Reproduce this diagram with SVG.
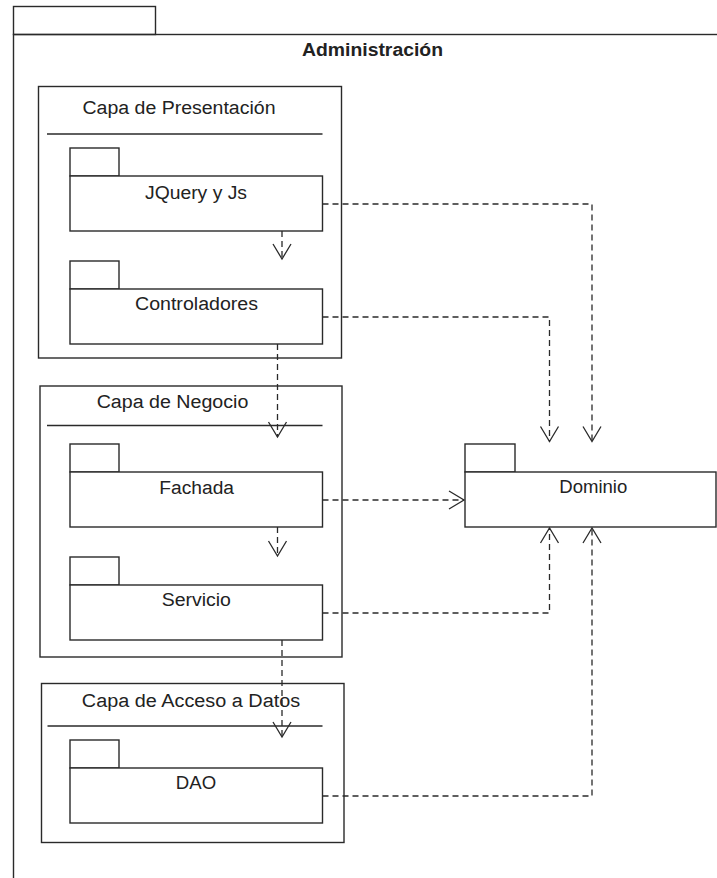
<svg xmlns="http://www.w3.org/2000/svg" width="717" height="878" viewBox="0 0 717 878">
  <defs>
    <style>
      .box { fill: none; stroke: #2a2a2a; stroke-width: 1.4; }
      .pkg { fill: #ffffff; stroke: #2a2a2a; stroke-width: 1.4; }
      .sep { stroke: #2a2a2a; stroke-width: 1.4; }
      .lbl { font-family: "Liberation Sans", Arial, sans-serif; font-size: 18px; fill: #222; text-anchor: middle; }
      .title { font-weight: bold; }
      .dep { fill: none; stroke: #2a2a2a; stroke-width: 1.3; stroke-dasharray: 6 4; marker-end: url(#open); }
    </style>
    <!-- open "V" arrowhead used by dependency connectors -->
    <marker id="open" markerUnits="userSpaceOnUse" markerWidth="20" markerHeight="22" refX="16" refY="10" orient="auto" overflow="visible">
      <path d="M1,1 L16,10 L1,19" fill="none" stroke="#2a2a2a" stroke-width="1.3"/>
    </marker>
  </defs>

  <rect width="717" height="878" fill="#ffffff"/>

  <!-- outer package: Administración -->
  <g id="administracion">
    <rect class="box" x="13.5" y="6.5" width="142" height="28"/>
    <rect class="box" x="13.5" y="34.5" width="720" height="860"/>
    <text class="lbl title" x="372.5" y="56" textLength="141" lengthAdjust="spacingAndGlyphs">Administración</text>
  </g>

  <!-- layer frames -->
  <g id="capa-presentacion">
    <rect class="box" x="38.5" y="86.5" width="303" height="271.5"/>
    <line class="sep" x1="47" y1="134" x2="322.5" y2="134"/>
    <text class="lbl" x="179" y="113.5" textLength="193" lengthAdjust="spacingAndGlyphs">Capa de Presentación</text>
  </g>

  <g id="capa-negocio">
    <rect class="box" x="40" y="386" width="302" height="271"/>
    <line class="sep" x1="47" y1="425.5" x2="322.5" y2="425.5"/>
    <text class="lbl" x="172.5" y="408" textLength="151.7" lengthAdjust="spacingAndGlyphs">Capa de Negocio</text>
  </g>

  <g id="capa-acceso-datos">
    <rect class="box" x="41.5" y="683.5" width="302.5" height="159"/>
    <line class="sep" x1="47.5" y1="726" x2="322.5" y2="726"/>
    <text class="lbl" x="191" y="706.5" textLength="218.3" lengthAdjust="spacingAndGlyphs">Capa de Acceso a Datos</text>
  </g>

  <!-- packages -->
  <g id="jquery-js">
    <rect class="pkg" x="70" y="148" width="49" height="28"/>
    <rect class="pkg" x="70" y="176" width="252.5" height="55"/>
    <text class="lbl" x="196" y="199" textLength="102" lengthAdjust="spacingAndGlyphs">JQuery y Js</text>
  </g>

  <g id="controladores">
    <rect class="pkg" x="70" y="261" width="49" height="28"/>
    <rect class="pkg" x="70" y="289" width="252.5" height="55"/>
    <text class="lbl" x="196.5" y="310" textLength="123" lengthAdjust="spacingAndGlyphs">Controladores</text>
  </g>

  <g id="fachada">
    <rect class="pkg" x="70" y="444" width="49" height="28"/>
    <rect class="pkg" x="70" y="472" width="252.5" height="55"/>
    <text class="lbl" x="196.7" y="493.5" textLength="74.7" lengthAdjust="spacingAndGlyphs">Fachada</text>
  </g>

  <g id="servicio">
    <rect class="pkg" x="70" y="557" width="49" height="28"/>
    <rect class="pkg" x="70" y="585" width="252.5" height="55"/>
    <text class="lbl" x="196.3" y="605.5" textLength="69.3" lengthAdjust="spacingAndGlyphs">Servicio</text>
  </g>

  <g id="dao">
    <rect class="pkg" x="70" y="740" width="49" height="28"/>
    <rect class="pkg" x="70" y="768" width="252.5" height="55"/>
    <text class="lbl" x="196" y="788.5" textLength="40.3" lengthAdjust="spacingAndGlyphs">DAO</text>
  </g>

  <g id="dominio">
    <rect class="pkg" x="465" y="444" width="50" height="28"/>
    <rect class="pkg" x="465" y="472" width="251" height="55"/>
    <text class="lbl" x="593.3" y="493" textLength="68" lengthAdjust="spacingAndGlyphs">Dominio</text>
  </g>

  <!-- dependency connectors -->
  <g id="connectors">
    <path class="dep" d="M282,231 V259"/>
    <path class="dep" d="M322.5,204 H592 V441.5"/>
    <path class="dep" d="M322.5,317 H549.5 V441.5"/>
    <path class="dep" d="M277.5,344 V437"/>
    <path class="dep" d="M322.5,500 H464"/>
    <path class="dep" d="M277.5,527 V556"/>
    <path class="dep" d="M322.5,613 H549.5 V528"/>
    <path class="dep" d="M282,640 V737"/>
    <path class="dep" d="M322.5,796 H592 V528"/>
  </g>
</svg>
